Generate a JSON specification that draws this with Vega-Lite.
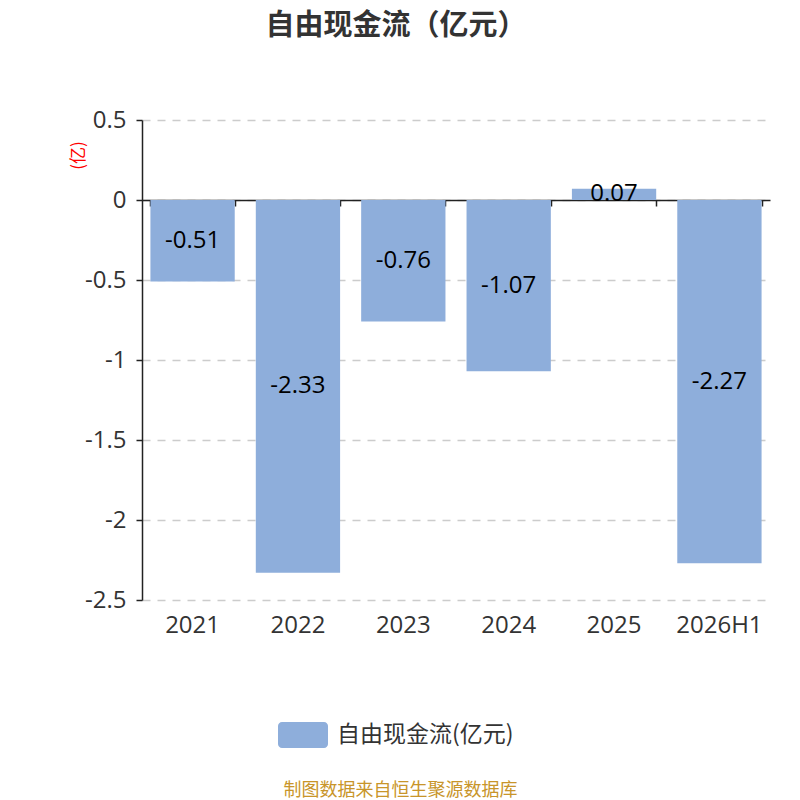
{
  "$schema": "https://vega.github.io/schema/vega-lite/v6.json",
  "width": 628,
  "height": 480,
  "autosize": "none",
  "padding": {"left": 142, "top": 120, "right": 30, "bottom": 200},
  "background": "white",
  "title": {
    "text": "自由现金流（亿元）",
    "fontSize": 29,
    "fontWeight": "bold",
    "color": "#333333",
    "font": "Noto Sans CJK SC",
    "anchor": "middle",
    "dx": -60,
    "offset": 67
  },
  "data": {
    "values": [
      {"year": "2021", "value": -0.51},
      {"year": "2022", "value": -2.33},
      {"year": "2023", "value": -0.76},
      {"year": "2024", "value": -1.07},
      {"year": "2025", "value": 0.07},
      {"year": "2026H1", "value": -2.27}
    ]
  },
  "transform": [
    {"calculate": "datum.value / 2", "as": "mid"},
    {"calculate": "'自由现金流(亿元)'", "as": "series"}
  ],
  "layer": [
    {
      "mark": {"type": "bar", "color": "#8eaedb"},
      "encoding": {
        "x": {
          "field": "year",
          "type": "nominal",
          "sort": null,
          "scale": {"paddingInner": 0.2, "paddingOuter": 0.08},
          "axis": {
            "orient": "bottom",
            "domain": false,
            "ticks": false,
            "labelAngle": 0,
            "labelFontSize": 24,
            "labelColor": "#333333",
            "labelFont": "Open Sans, Noto Sans CJK SC",
            "labelPadding": 13,
            "title": "制图数据来自恒生聚源数据库",
            "titleFont": "Noto Sans CJK SC",
            "titleFontSize": 18,
            "titleFontWeight": "normal",
            "titleColor": "#c8952a",
            "titlePadding": 144,
            "titleX": 258,
            "titleAnchor": "middle"
          }
        },
        "y": {
          "field": "value",
          "type": "quantitative",
          "scale": {"domain": [-2.5, 0.5], "nice": false, "zero": false},
          "axis": {
            "values": [0.5, 0, -0.5, -1, -1.5, -2, -2.5],
            "labelExpr": "toString(datum.value)",
            "grid": true,
            "gridColor": "#cccccc",
            "gridDash": [8, 7],
            "gridWidth": 1.6,
            "domain": true,
            "domainColor": "#222222",
            "domainWidth": 1.5,
            "tickColor": "#222222",
            "tickSize": 6,
            "tickWidth": 1.5,
            "labelFontSize": 24,
            "labelColor": "#333333",
            "labelFont": "Open Sans, Noto Sans CJK SC",
            "labelPadding": 10,
            "title": "(亿)",
            "titleColor": "#ff0000",
            "titleFontSize": 17,
            "titleFontWeight": "normal",
            "titleFont": "Noto Sans CJK SC",
            "titleX": -64,
            "titleY": 35,
            "titleAlign": "center",
            "titleBaseline": "middle",
            "titleAngle": -90
          }
        },
        "color": {
          "field": "series",
          "type": "nominal",
          "scale": {"range": ["#8eaedb"]},
          "legend": {
            "title": null,
            "orient": "none",
            "legendX": 136,
            "legendY": 590,
            "symbolType": "M-0.84,-0.52 H0.84 A0.16,0.16 0 0 1 1,-0.36 V0.36 A0.16,0.16 0 0 1 0.84,0.52 H-0.84 A0.16,0.16 0 0 1 -1,0.36 V-0.36 A0.16,0.16 0 0 1 -0.84,-0.52 Z",
            "symbolSize": 2500,
            "symbolStrokeWidth": 0,
            "symbolOpacity": 1,
            "labelFontSize": 23,
            "labelColor": "#333333",
            "labelFont": "Noto Sans CJK SC",
            "labelOffset": 9,
            "labelLimit": 400
          }
        }
      }
    },
    {
      "mark": {"type": "text", "fontSize": 24, "color": "#000000", "font": "Open Sans, Noto Sans CJK SC", "baseline": "middle"},
      "encoding": {
        "x": {"field": "year", "type": "nominal", "sort": null, "axis": null},
        "y": {"field": "mid", "type": "quantitative"},
        "text": {"field": "value", "type": "nominal"}
      }
    },
    {
      "mark": {"type": "tick", "opacity": 0},
      "encoding": {
        "x": {
          "field": "year",
          "type": "nominal",
          "sort": null,
          "axis": {
            "orient": "bottom",
            "offset": -400,
            "labels": false,
            "domain": true,
            "domainColor": "#222222",
            "domainWidth": 1.5,
            "ticks": true,
            "tickBand": "extent",
            "tickColor": "#222222",
            "tickWidth": 1.5,
            "tickSize": 6,
            "grid": false,
            "title": null
          }
        },
        "y": {"datum": 0}
      }
    }
  ],
  "resolve": {"axis": {"x": "independent"}},
  "config": {
    "view": {"stroke": null},
    "font": "Noto Sans CJK SC"
  }
}
